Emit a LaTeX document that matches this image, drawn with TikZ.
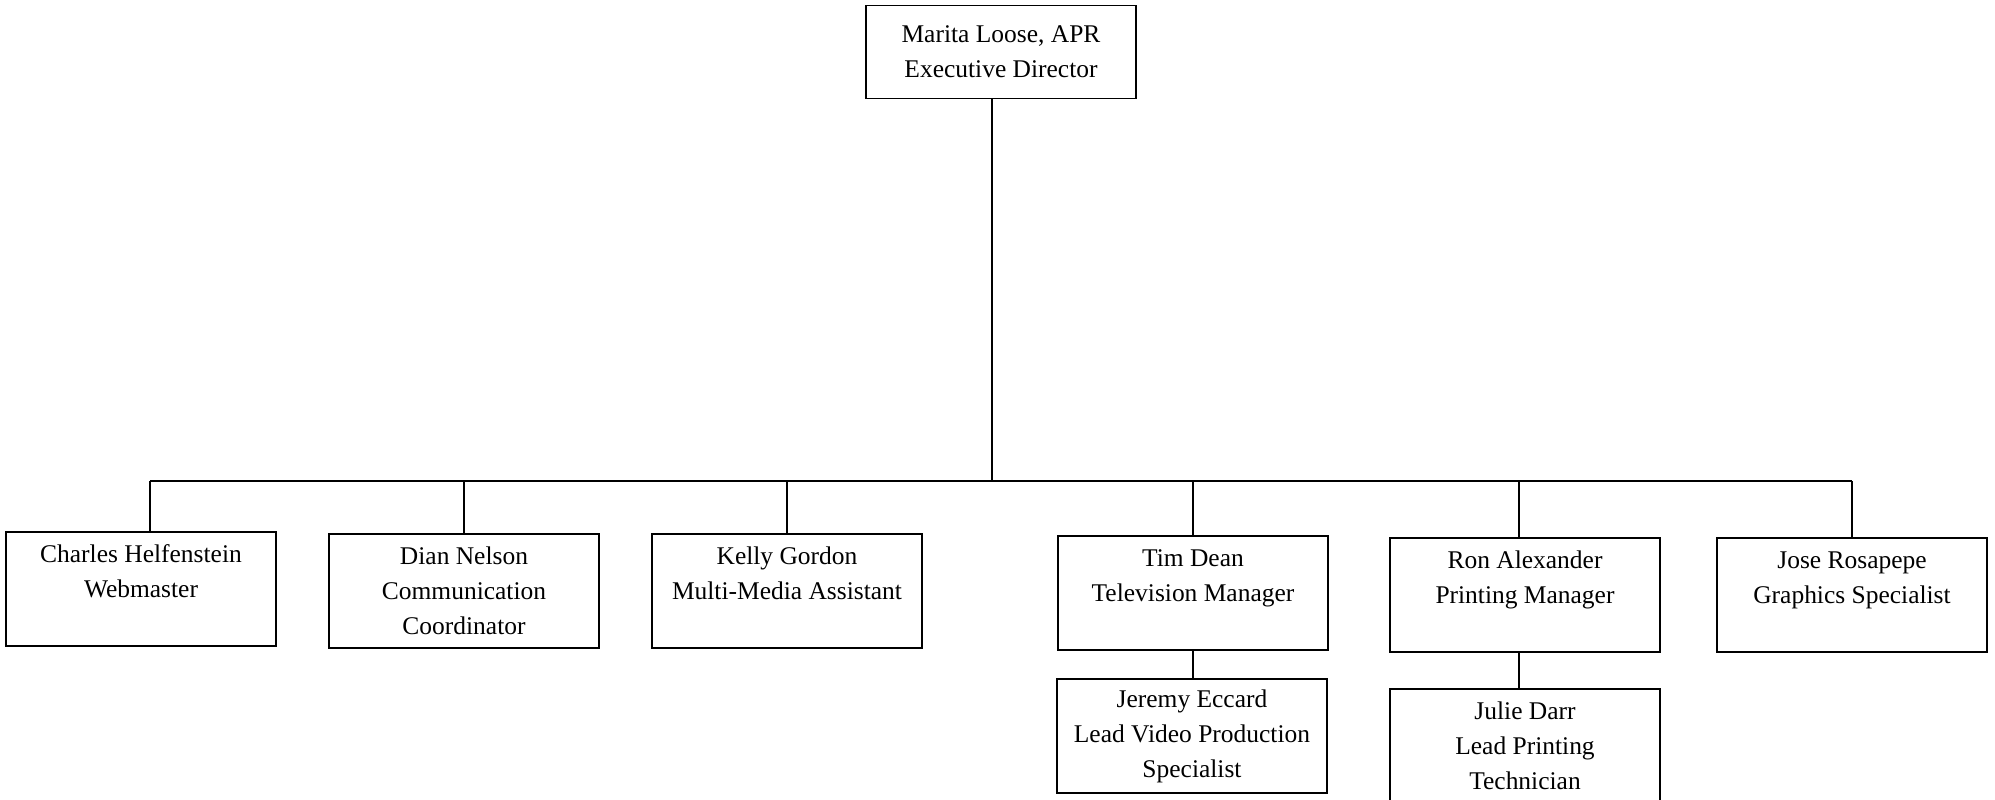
\documentclass[tikz,border=0pt]{standalone}
\usepackage{fontspec}
\setmainfont{Liberation Serif}
\begin{document}
\begin{tikzpicture}[x=0.02cm,y=-0.02cm,
box/.style={draw, line width=1pt, minimum width=5.4cm, minimum height=2.28cm,
inner sep=0pt, align=center, font=\fontsize{14.5}{20}\selectfont},
link/.style={line width=1pt}]
\useasboundingbox (0,0) rectangle (1995,799);
% draws boxes
\node[box, minimum height=1.86cm] (director) at (1001,52) {Marita Loose, APR\\Executive Director};
\node[box] (charles) at (141,589) {Charles Helfenstein\\Webmaster\\~};
\node[box] (dian) at (464,591) {Dian Nelson\\Communication\\Coordinator};
\node[box] (kelly) at (787,591) {Kelly Gordon\\Multi-Media Assistant\\~};
\node[box] (tim) at (1193,593) {Tim Dean\\Television Manager\\~};
\node[box] (ron) at (1525,595) {Ron Alexander\\Printing Manager\\~};
\node[box] (jose) at (1852,595) {Jose Rosapepe\\Graphics Specialist\\~};
\node[box] (jeremy) at (1192,736) {Jeremy Eccard\\Lead Video Production\\Specialist};
\node[box] (julie) at (1525,746) {Julie Darr\\Lead Printing\\Technician};
% draws bus
\coordinate (bus) at (992,481);
\coordinate (busL) at (150,481);
\coordinate (tap) at (1519,481);
\draw[link] (director.south -| bus) -- (bus);
\draw[link] (busL) -- (jose.north |- bus);
% draws drops
\draw[link] (busL) -- (charles.north -| busL);
\draw[link] (dian.north |- bus) -- (dian.north);
\draw[link] (kelly.north |- bus) -- (kelly.north);
\draw[link] (tim.north |- bus) -- (tim.north);
\draw[link] (tap) -- (ron.north -| tap);
\draw[link] (jose.north |- bus) -- (jose.north);
\draw[link] (tim.south) -- (jeremy.north -| tim.south);
\draw[link] (ron.south -| tap) -- (julie.north -| tap);
\end{tikzpicture}
\end{document}
